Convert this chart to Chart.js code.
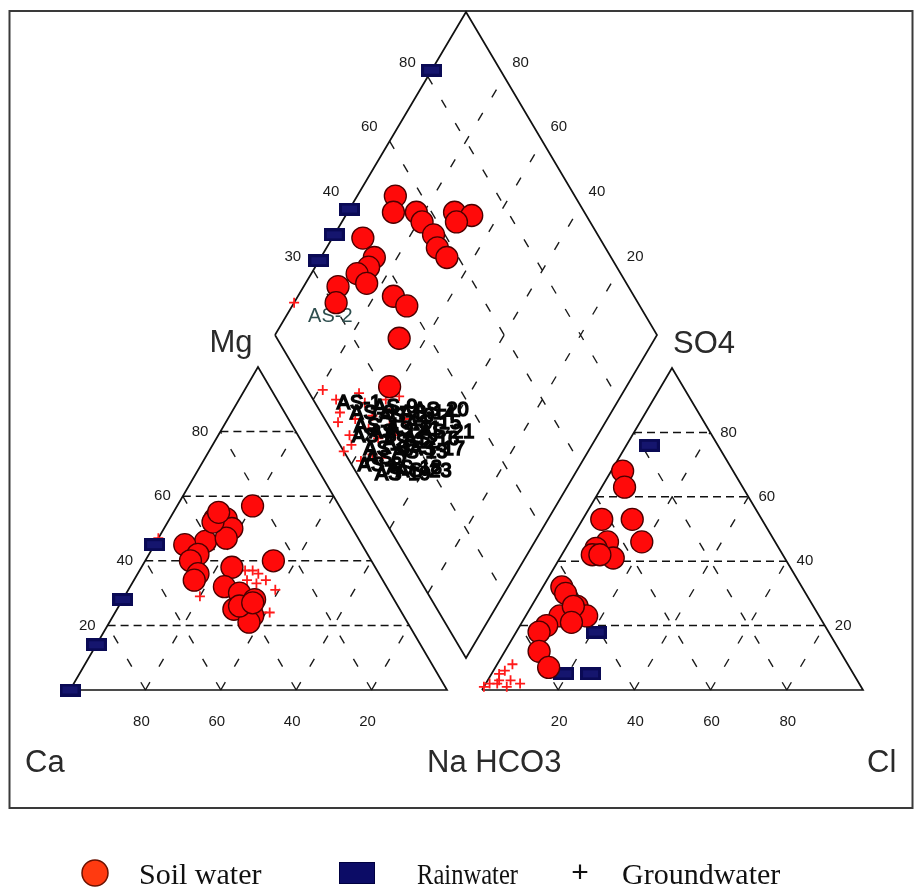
<!DOCTYPE html>
<html>
<head>
<meta charset="utf-8">
<script src="https://cdn.jsdelivr.net/npm/chart.js@4.4.1/dist/chart.umd.min.js"></script>
<style>
  html, body { margin: 0; padding: 0; background: #fff; }
  canvas { display: block; }
</style>
</head>
<body>
<canvas id="piper" width="924" height="888"></canvas>
<script>
// Soil water, cation triangle: [Mg %, Na+K %]
const soilCations = [[57,20],[53,12],[53,15],[50,18],[46,13],[45,8],[42,13],[47,18],[40,12],[36,16],[34,16],[52,12],[55,12],
  [40,34],[38,24],[32,25],[30,30],[28,35],[25,31],[23,37],[21,37],[26,32],[27,35]];
// Soil water, anion triangle: [SO4 %, Cl %]
const soilAnions = [[68,3],[63,6],[53,13],[53,5],[46,19],[46,10],[44,8],[42,8],[41,14],[42,10],[32,5],[30,7],[26,12],
  [23,16],[23,9],[20,7],[18,6],[12,9],[7,14],[26,11],[21,13]];
// Soil water, diamond: [SO4+Cl %, Na+K %]
const soilDiamond = [[53,10],[50,12],[56,18],[56,21],[57,26],[56,29],[57,33],[66,28],[70,33],[65,30],[38,8],[38,14],
  [35,14],[31,12],[32,16],[24,9],[21,11],[37,25],[39,30],[32,33],[22,38]];

const rainCations = [[0,0],[14,0],[28,0],[45,0]];
const rainAnions = [[76,6],[18,21],[5,26],[5,19]];
const rainDiamond = [[82,0],[39,0],[31,0],[23,0]];

const groundCations = [[37,30],[36,32],[34,35],[34,30],[33,33],[29,20],[24,41],[24,39],[47,0],[37,28],[31,39]];
const groundAnions = [[1,0],[2,3],[3,3],[6,3],[8,4],[3,6],[2,9],[5,2],[2,1],[1,6]];
const groundDiamond = [[10,0],[4,21],[6,26],[5,29],[3,30],[4,35],[3,37],[0,36],[13,31],[13,34],[13,38],[10,39],[11,43],
  [19,39],[19,42],[16,44],[16,47],[7,44],[3,42],[23,42],[21,47],[8,34],[9,47]];
const groundIds = ['AS-2','AS-1','AS-3','AS-4','AS-5','AS-6','AS-7','AS-8','AS-9','AS-10','AS-11','AS-12','AS-13',
  'AS-14','AS-15','AS-16','AS-17','AS-18','AS-19','AS-20','AS-21','AS-22','AS-23'];

const gridSteps = [20, 40, 60, 80];
const cationEdgeTicks = ['20','40','60','80'];
const cationBaseTicks = ['80','60','40','20'];
const anionEdgeTicks = ['20','40','60','80'];
const anionBaseTicks = ['20','40','60','80'];
const diamondLeftTicks = ['30','40','60','80'];
const diamondRightTicks = ['80','60','40','20'];

// corners of the three fields (canvas units)
const cat = { ca: [70, 690], na: [447, 690], mg: [258, 367] };
const an = { hco3: [482, 690], cl: [863, 690], so4: [672, 368] };
const dia = { left: [275, 335], top: [466, 12], bottom: [466, 658] };

const catPt = (mg, na) => {
  const ca = 100 - mg - na;
  return { x: (cat.ca[0]*ca + cat.na[0]*na + cat.mg[0]*mg) / 100, y: (cat.ca[1]*ca + cat.na[1]*na + cat.mg[1]*mg) / 100 };
};
const anPt = (so4, cl) => {
  const hc = 100 - so4 - cl;
  return { x: (an.hco3[0]*hc + an.cl[0]*cl + an.so4[0]*so4) / 100, y: (an.hco3[1]*hc + an.cl[1]*cl + an.so4[1]*so4) / 100 };
};
const diaPt = (s, n) => ({
  x: dia.left[0] + (dia.top[0] - dia.left[0]) * s / 100 + (dia.bottom[0] - dia.left[0]) * n / 100,
  y: dia.left[1] + (dia.top[1] - dia.left[1]) * s / 100 + (dia.bottom[1] - dia.left[1]) * n / 100
});
const gap = () => ({ x: null, y: null });

const outline = [
  catPt(0,0), catPt(0,100), catPt(100,0), catPt(0,0), gap(),
  anPt(0,0), anPt(0,100), anPt(100,0), anPt(0,0), gap(),
  diaPt(0,0), diaPt(100,0), diaPt(100,100), diaPt(0,100), diaPt(0,0)
];

const flatGrid = [];
const slantGrid = [];
gridSteps.forEach(v => {
  [catPt, anPt].forEach(pt => {
    flatGrid.push(pt(v, 0), pt(v, 100 - v), gap());
    slantGrid.push(pt(0, v), pt(100 - v, v), gap());
    slantGrid.push(pt(0, 100 - v), pt(100 - v, 0), gap());
  });
  slantGrid.push(diaPt(v, 0), diaPt(v, 100), gap());
  slantGrid.push(diaPt(0, v), diaPt(100, v), gap());
});

const rainMark = document.createElement('canvas');
rainMark.width = 21; rainMark.height = 13;
(() => {
  const c = rainMark.getContext('2d');
  c.fillStyle = '#0a0a55';
  c.fillRect(0, 0, 21, 13);
  c.fillStyle = '#15156e';
  c.fillRect(3, 3, 15, 7);
})();

const soilStyle = { pointStyle: 'circle', pointRadius: 11, backgroundColor: '#ff0a0a', borderColor: '#4a0000', borderWidth: 1.3, showLine: false };
const rainStyle = { pointStyle: rainMark, pointRadius: 10, showLine: false };
const groundStyle = { pointStyle: 'cross', pointRadius: 5, borderColor: '#ff1a1a', borderWidth: 1.8, showLine: false };

const textPlugin = {
  id: 'piperText',
  beforeDatasetsDraw(chart) {
    const { ctx, scales: { x, y } } = chart;
    const put = (txt, p, dx, dy, align) => {
      ctx.textAlign = align;
      ctx.fillText(txt, x.getPixelForValue(p.x) + dx, y.getPixelForValue(p.y) + dy);
    };
    ctx.save();
    ctx.fillStyle = '#1a1a1a';
    ctx.textBaseline = 'middle';
    ctx.font = '15px "Liberation Sans", Arial, sans-serif';
    gridSteps.forEach((v, i) => {
      put(cationEdgeTicks[i], catPt(v, 0), -12, 0, 'right');
      put(cationBaseTicks[i], catPt(0, v), -4, 32, 'center');
      put(anionEdgeTicks[i], anPt(v, 100 - v), 10, 0, 'left');
      put(anionBaseTicks[i], anPt(0, v), 1, 32, 'center');
      put(diamondLeftTicks[i], diaPt(v, 0), -12, -14, 'right');
      put(diamondRightTicks[i], diaPt(100, v), 8, -14, 'left');
    });
    ctx.textBaseline = 'alphabetic';
    ctx.font = '31px "Liberation Sans", Arial, sans-serif';
    ctx.fillStyle = '#2a2a2a';
    put('Mg', catPt(100, 0), -27, -15, 'center');
    put('SO4', anPt(100, 0), 32, -15, 'center');
    put('Ca', catPt(0, 0), -45, 82, 'left');
    put('Na HCO3', catPt(0, 100), -20, 82, 'left');
    put('Cl', anPt(0, 100), 4, 82, 'left');
    ctx.restore();
  },
  afterDatasetDraw(chart, args) {
    if (args.index !== 8) return;
    const { ctx, scales: { x, y } } = chart;
    ctx.save();
    ctx.font = '20px "Liberation Sans", sans-serif';
    ctx.textBaseline = 'middle';
    ctx.textAlign = 'left';
    ctx.lineWidth = 1.6;
    groundDiamond.forEach((d, i) => {
      const p = diaPt(d[0], d[1]);
      const px = x.getPixelForValue(p.x) + 14;
      const py = y.getPixelForValue(p.y) + 14;
      if (i === 0) {
        ctx.fillStyle = '#2f4f4f';
        ctx.fillText(groundIds[i], px, py);
      } else {
        ctx.fillStyle = '#050505';
        ctx.strokeStyle = '#050505';
        ctx.strokeText(groundIds[i], px, py);
        ctx.fillText(groundIds[i], px, py);
      }
    });
    ctx.restore();
  },
  beforeDraw(chart) {
    const ctx = chart.ctx;
    ctx.save();
    ctx.fillStyle = '#fff';
    ctx.fillRect(0, 0, chart.width, chart.height);
    ctx.strokeStyle = '#3a3a3a';
    ctx.lineWidth = 2;
    ctx.strokeRect(9.5, 11, 903, 797);
    ctx.restore();
  },
  afterDraw(chart) {
    const ctx = chart.ctx;
    ctx.save();
    ctx.beginPath();
    ctx.arc(95, 873, 13, 0, Math.PI * 2);
    ctx.fillStyle = '#ff3a10';
    ctx.fill();
    ctx.strokeStyle = '#6b1200';
    ctx.lineWidth = 1.5;
    ctx.stroke();
    ctx.fillStyle = '#0c0c66';
    ctx.fillRect(339, 862, 36, 22);
    ctx.strokeStyle = '#000040';
    ctx.lineWidth = 1;
    ctx.strokeRect(339.5, 862.5, 35, 21);
    ctx.fillStyle = '#111';
    ctx.font = '30px "Liberation Serif", "Times New Roman", serif';
    ctx.textBaseline = 'alphabetic';
    ctx.textAlign = 'left';
    ctx.fillText('Soil water', 139, 884, 127);
    ctx.fillText('Rainwater', 417, 884, 101);
    ctx.fillText('Groundwater', 622, 884, 164);
    ctx.font = '30px "Liberation Sans", sans-serif';
    ctx.textAlign = 'center';
    ctx.fillText('+', 580, 882);
    ctx.restore();
  }
};

new Chart(document.getElementById('piper'), {
  type: 'scatter',
  data: {
    datasets: [
      { label: 'Soil water', data: soilCations.map(d => catPt(d[0], d[1])), ...soilStyle },
      { label: 'Soil water', data: soilAnions.map(d => anPt(d[0], d[1])), ...soilStyle },
      { label: 'Soil water', data: soilDiamond.map(d => diaPt(d[0], d[1])), ...soilStyle },
      { label: 'Rainwater', data: rainCations.map(d => catPt(d[0], d[1])), ...rainStyle },
      { label: 'Rainwater', data: rainAnions.map(d => anPt(d[0], d[1])), ...rainStyle },
      { label: 'Rainwater', data: rainDiamond.map(d => diaPt(d[0], d[1])), ...rainStyle },
      { label: 'Groundwater', data: groundCations.map(d => catPt(d[0], d[1])), ...groundStyle },
      { label: 'Groundwater', data: groundAnions.map(d => anPt(d[0], d[1])), ...groundStyle },
      { label: 'Groundwater', data: groundDiamond.map(d => diaPt(d[0], d[1])), ...groundStyle },
      { label: 'outline', data: outline, showLine: true, pointRadius: 0, borderColor: '#111', borderWidth: 1.7, spanGaps: false },
      { label: 'grid', data: flatGrid, showLine: true, pointRadius: 0, borderColor: '#111', borderWidth: 1.5, borderDash: [8, 5], spanGaps: false },
      { label: 'grid2', data: slantGrid, showLine: true, pointRadius: 0, borderColor: '#1a1a1a', borderWidth: 1.4, borderDash: [9, 18], spanGaps: false }
    ]
  },
  options: {
    responsive: false,
    animation: false,
    clip: false,
    layout: { padding: 0, autoPadding: false },
    scales: {
      x: { type: 'linear', min: 0, max: 924, display: false },
      y: { type: 'linear', min: 0, max: 888, reverse: true, display: false }
    },
    plugins: {
      legend: { display: false },
      tooltip: { enabled: false }
    }
  },
  plugins: [textPlugin]
});
</script>
</body>
</html>
